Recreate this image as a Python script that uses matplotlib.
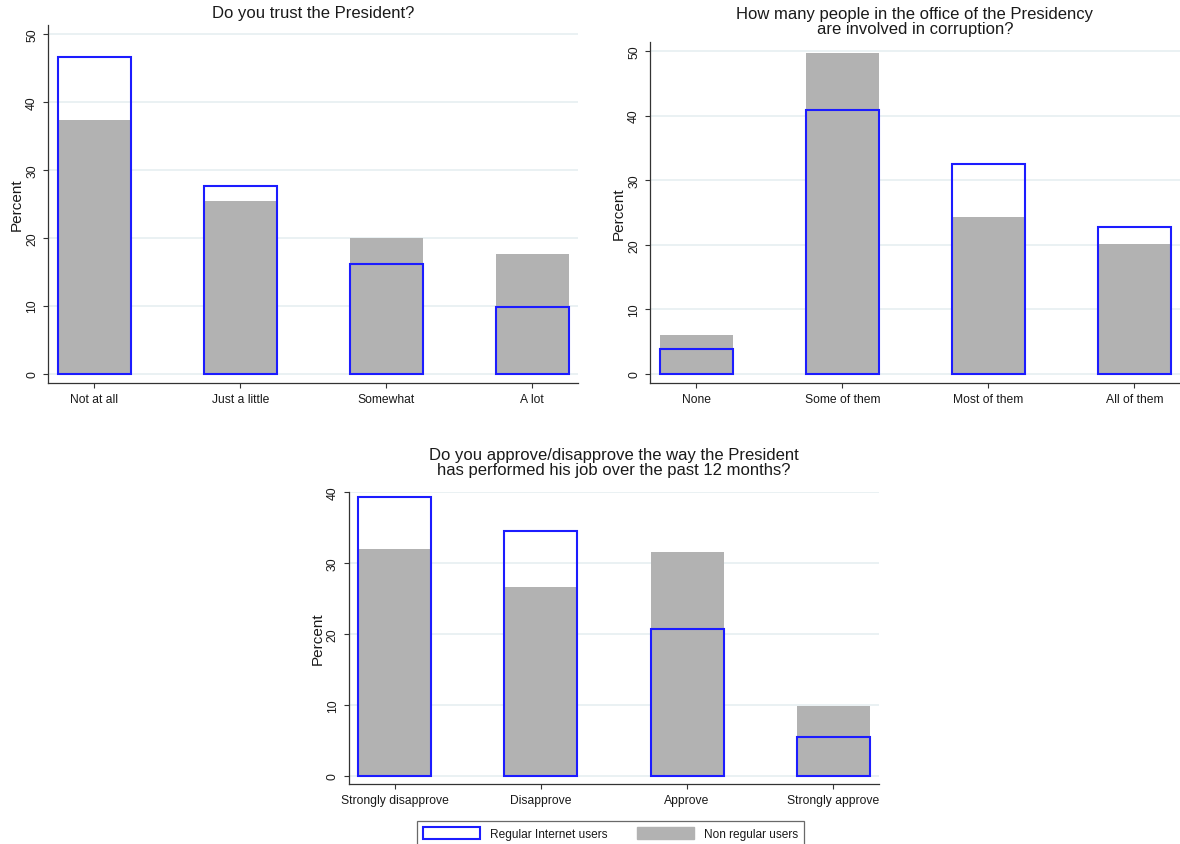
import matplotlib
matplotlib.use("Agg")
import matplotlib.pyplot as plt
from matplotlib.patches import Patch
import numpy as np

plt.rcParams["font.family"] = ["Liberation Sans", "DejaVu Sans"]

# survey answers, percent of each group
trust_cats = ["Not at all", "Just a little", "Somewhat", "A lot"]
trust_regular = [46.6, 27.6, 16.1, 9.8]
trust_nonreg = [37.4, 25.4, 20.0, 17.6]

corrupt_cats = ["None", "Some of them", "Most of them", "All of them"]
corrupt_regular = [3.8, 40.9, 32.5, 22.8]
corrupt_nonreg = [6.1, 49.7, 24.3, 20.2]

approve_cats = ["Strongly disapprove", "Disapprove", "Approve", "Strongly approve"]
approve_regular = [39.4, 34.5, 20.7, 5.4]
approve_nonreg = [32.0, 26.7, 31.6, 9.8]

W, H = 1180, 845
BLUE = "#1c1cff"
GRAY = "#b2b2b2"
GRID = "#e6eff1"
INK = "#1a1a1a"

fig = plt.figure(figsize=(W / 100, H / 100), dpi=100)
fig.patch.set_facecolor("white")


def px_axes(left, top, right, bottom):
    return fig.add_axes([left / W, 1 - bottom / H, (right - left) / W, (bottom - top) / H])


def panel(ax, cats, regular, nonreg, ylim, yticks):
    x = np.arange(len(cats))
    ax.bar(x, nonreg, width=0.5, color=GRAY, zorder=2)
    ax.bar(x, regular, width=0.5, facecolor="none", edgecolor=BLUE, linewidth=1.5, zorder=3)
    ax.set_xlim(-0.315, 3.315)
    ax.set_ylim(*ylim)
    ax.set_xticks(x)
    ax.set_xticklabels(cats)
    ax.set_yticks(yticks)
    for t in ax.get_yticklabels():
        t.set_rotation(90)
        t.set_va("center")
    ax.yaxis.grid(True, color=GRID, linewidth=1.2, zorder=0)
    ax.set_axisbelow(True)
    for s in ["top", "right"]:
        ax.spines[s].set_visible(False)
    for s in ["left", "bottom"]:
        ax.spines[s].set_color("#333333")
        ax.spines[s].set_linewidth(0.9)
    ax.tick_params(direction="out", length=3.8, width=0.8, color="#333333",
                   labelsize=8.7, labelcolor=INK, pad=3.5)
    ax.set_ylabel("Percent", fontsize=11, color=INK, labelpad=1.5)


ax1 = px_axes(48.3, 26, 578.3, 384)
panel(ax1, trust_cats, trust_regular, trust_nonreg, (-1.40, 51.37), range(0, 51, 10))

ax2 = px_axes(650.3, 42.7, 1180.3, 384)
panel(ax2, corrupt_cats, corrupt_regular, corrupt_nonreg, (-1.39, 51.44), range(0, 51, 10))

ax3 = px_axes(349, 492.7, 879, 785)
panel(ax3, approve_cats, approve_regular, approve_nonreg, (-1.17, 40.08), range(0, 41, 10))

# titles
fig.text(313 / W, 1 - 13.5 / H, "Do you trust the President?", ha="center", va="center",
         fontsize=12, color=INK)
fig.text(915 / W, 1 - 22 / H, "How many people in the office of the Presidency\nare involved in corruption?",
         ha="center", va="center", fontsize=12, color=INK, linespacing=0.95)
fig.text(614 / W, 1 - 463 / H,
         "Do you approve/disapprove the way the President\nhas performed his job over the past 12 months?",
         ha="center", va="center", fontsize=12, color=INK, linespacing=0.95)

handles = [Patch(facecolor="white", edgecolor=BLUE, linewidth=1.5),
           Patch(facecolor=GRAY, edgecolor=GRAY)]
leg = fig.legend(handles, ["Regular Internet users", "Non regular users"], ncol=2,
                 loc="upper left", bbox_to_anchor=(417 / W, 1 - 822 / H), borderaxespad=0,
                 fontsize=8.6, frameon=True, fancybox=False, handlelength=4.8,
                 handleheight=1.16, handletextpad=0.83, columnspacing=2.45, borderpad=0.5)
leg.get_frame().set_edgecolor("#444444")
leg.get_frame().set_linewidth(0.9)
for t in leg.get_texts():
    t.set_color(INK)

fig.savefig("out.png", dpi=100)
